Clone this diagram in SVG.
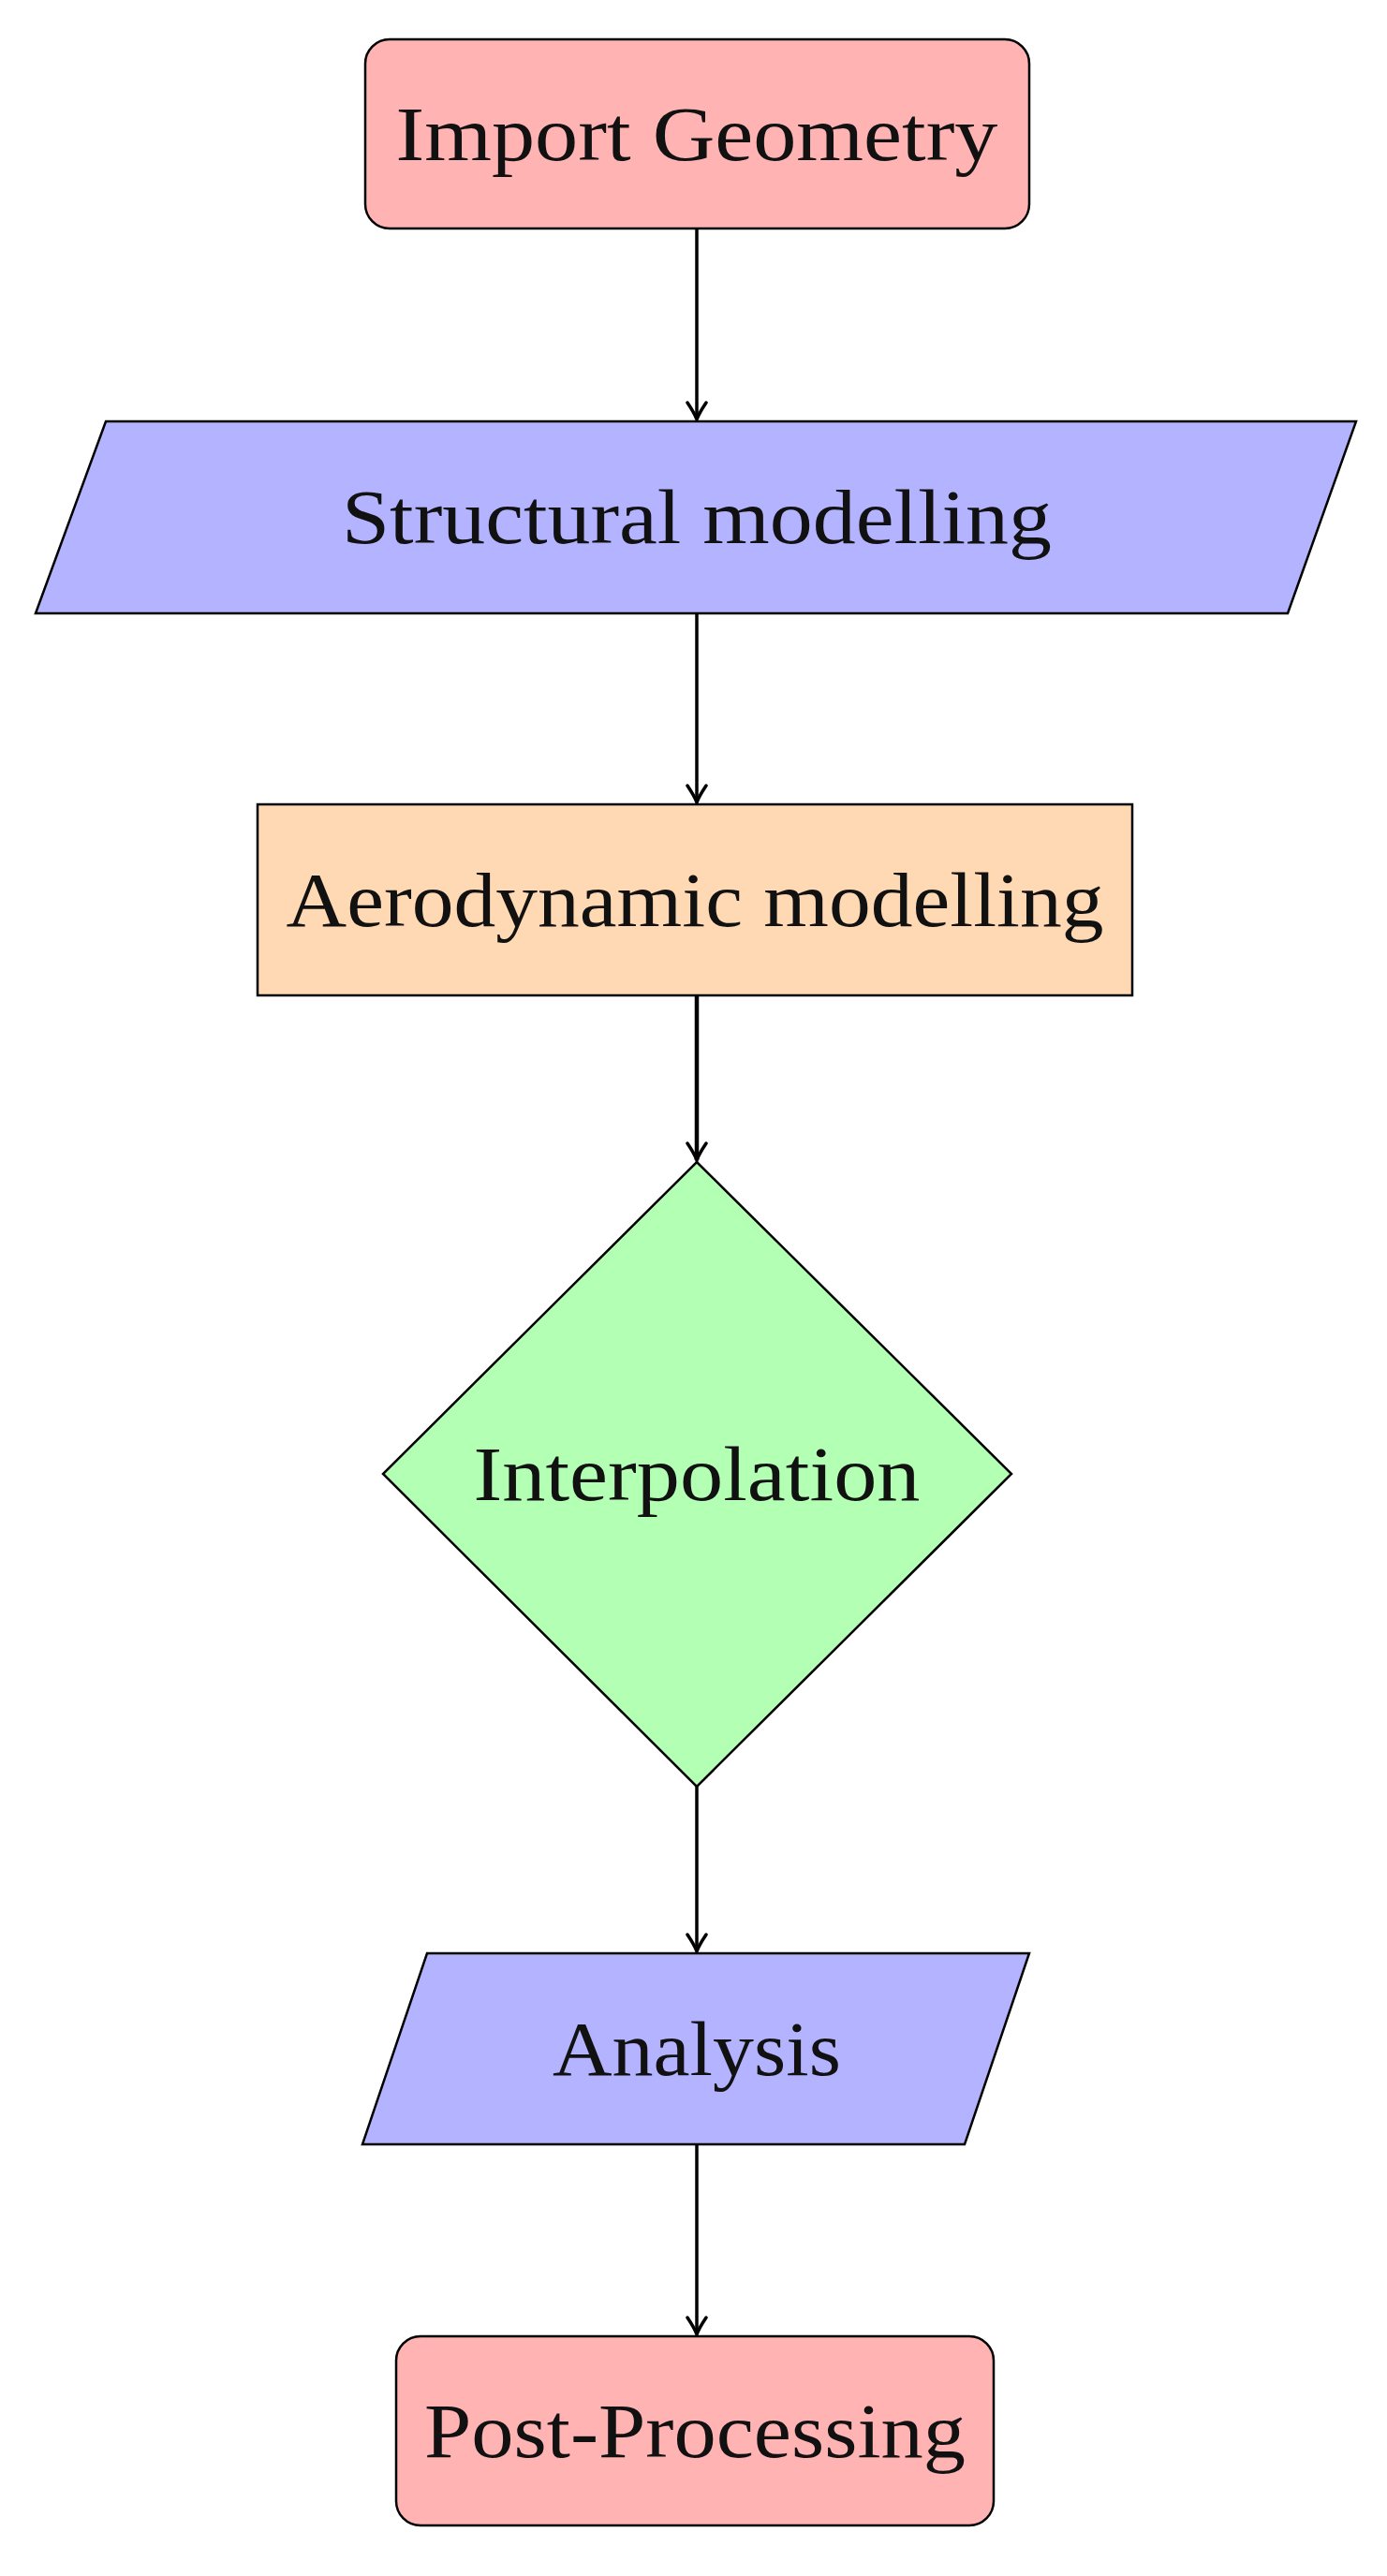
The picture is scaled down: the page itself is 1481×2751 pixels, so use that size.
<svg xmlns="http://www.w3.org/2000/svg" width="1481" height="2751" viewBox="0 0 1481 2751">
<style>
.n{stroke:#000;stroke-width:2.5}
.t{font-family:"Liberation Serif",serif;font-size:82px;fill:#111;text-anchor:middle;dominant-baseline:central}
.c{stroke:#000;stroke-width:3.5;fill:none;marker-end:url(#a)}
</style>
<defs><marker id="a" viewBox="-20 -12 24 24" refX="2" refY="0" markerWidth="24" markerHeight="24" orient="auto" markerUnits="userSpaceOnUse"><path d="M-16,-10 Q-4,-2 2,0 Q-4,2 -16,10" fill="none" stroke="#000" stroke-width="3.5" stroke-linecap="round"/></marker></defs>
<rect width="1481" height="2751" fill="#fff"/>
<g id="import"><rect class="n" x="390" y="42" width="709" height="202" rx="26" fill="#ffb3b3"/><text class="t" x="744" y="143" textLength="643" lengthAdjust="spacingAndGlyphs">Import Geometry</text></g>
<g id="structural"><polygon class="n" points="113,450 1448,450 1375,655 38,655" fill="#b3b3ff"/><text class="t" x="744" y="552" textLength="758" lengthAdjust="spacingAndGlyphs">Structural modelling</text></g>
<g id="aero"><rect class="n" x="275" y="859" width="934" height="204" fill="#ffd9b3"/><text class="t" x="742" y="961" textLength="873" lengthAdjust="spacingAndGlyphs">Aerodynamic modelling</text></g>
<g id="interp"><polygon class="n" points="744,1241 1080,1574 744,1908 409,1574" fill="#b3ffb3" stroke="#333"/><text class="t" x="744" y="1574" textLength="477" lengthAdjust="spacingAndGlyphs">Interpolation</text></g>
<g id="analysis"><polygon class="n" points="456,2086 1099,2086 1030,2290 387,2290" fill="#b3b3ff"/><text class="t" x="744" y="2188" textLength="308" lengthAdjust="spacingAndGlyphs">Analysis</text></g>
<g id="post"><rect class="n" x="423" y="2495" width="638" height="202" rx="26" fill="#ffb3b3"/><text class="t" x="742" y="2596" textLength="578" lengthAdjust="spacingAndGlyphs">Post-Processing</text></g>
<g id="connectors">
<line class="c" x1="744" y1="244" x2="744" y2="448"/>
<line class="c" x1="744" y1="655" x2="744" y2="857"/>
<line class="c" x1="744" y1="1063" x2="744" y2="1239" style="stroke-width:4.5"/>
<line class="c" x1="744" y1="1908" x2="744" y2="2084"/>
<line class="c" x1="744" y1="2290" x2="744" y2="2493"/>
</g>
</svg>
